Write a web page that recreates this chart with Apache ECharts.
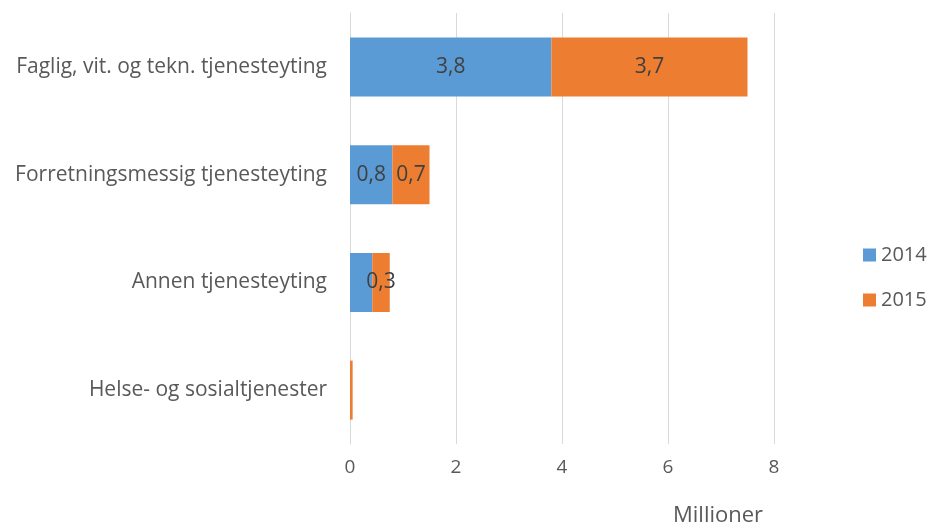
<!DOCTYPE html>
<html><head><meta charset="utf-8">
<script src="https://cdn.jsdelivr.net/npm/echarts@6/dist/echarts.min.js"></script>
<style>html,body{margin:0;padding:0;background:#fff}#c{width:930px;height:525px}</style>
</head><body><div id="c"></div>
<script>
const categories = ["Faglig, vit. og tekn. tjenesteyting","Forretningsmessig tjenesteyting","Annen tjenesteyting","Helse- og sosialtjenester"];
const seriesNames = ["2014","2015"];
const values2014 = [3.8, 0.8, 0.42, 0.0];
const values2015 = [3.7, 0.7, 0.33, 0.05];
const showLabel2014 = [true, true, false, false];
const showLabel2015 = [true, true, true, false];
const xTicks = [0, 2, 4, 6, 8];

const font = "Open Sans";
function mk(vals, shows){
  return vals.map((v,i)=>({value:v, label:{show:shows[i]}}));
}
const fmt = p=>(Math.round(p.value*10)/10).toString().replace('.',',');
const chart = echarts.init(document.getElementById('c'));
chart.setOption({
  animation:false,
  textStyle:{fontFamily:font},
  grid:{left:350, right:156, top:13, bottom:81, containLabel:false},
  legend:{orient:'vertical', left:858, top:240, itemWidth:13, itemHeight:13, itemGap:25,
    textStyle:{fontSize:20, color:'#595959', fontFamily:font}, icon:'rect', data:seriesNames},
  title:{text:'Millioner', left:668, top:500, textStyle:{fontSize:22, fontWeight:'normal', color:'#595959', fontFamily:font}},
  xAxis:{type:'value', min:xTicks[0], max:xTicks[xTicks.length-1], interval:2,
    axisLine:{show:false}, axisTick:{show:false},
    splitLine:{lineStyle:{color:'#d9d9d9'}},
    axisLabel:{fontSize:19, color:'#595959', margin:14, fontFamily:font}},
  yAxis:{type:'category', inverse:true, data:categories,
    axisLine:{show:true, lineStyle:{color:'#d9d9d9'}}, axisTick:{show:false},
    axisLabel:{fontSize:21, color:'#595959', margin:23, fontFamily:font}},
  series:[
    {name:seriesNames[0], type:'bar', stack:'a', barWidth:59, data:mk(values2014, showLabel2014),
      itemStyle:{color:'#5B9BD5'},
      label:{position:'inside', fontSize:21, color:'#404040', fontFamily:font, formatter:fmt}},
    {name:seriesNames[1], type:'bar', stack:'a', barWidth:59, data:mk(values2015, showLabel2015),
      itemStyle:{color:'#ED7D31'},
      label:{position:'inside', fontSize:21, color:'#404040', fontFamily:font, formatter:fmt}}
  ]
});
</script></body></html>
